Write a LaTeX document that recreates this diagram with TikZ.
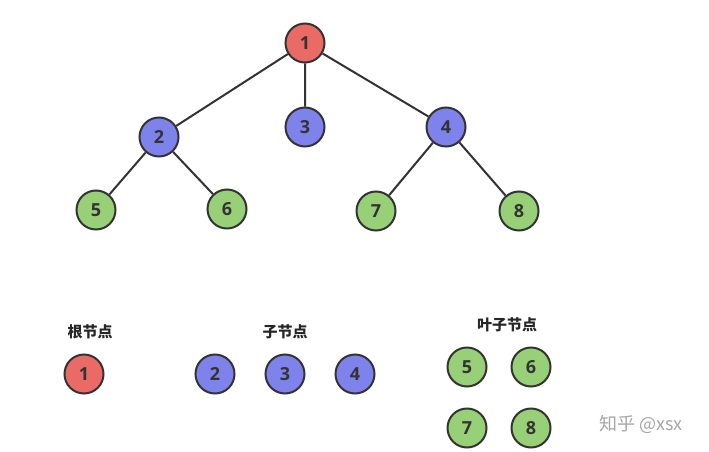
\documentclass[tikz,border=0pt]{standalone}
\usepackage{fontspec}
\setmainfont{Open Sans}
\newfontfamily\cjk{Noto Sans CJK SC}
\begin{document}
\begin{tikzpicture}[x=1pt,y=-1pt,
  nd/.style={circle,draw=black!80,line width=2pt,minimum size=39pt,inner sep=0pt,font=\fontsize{18}{18}\selectfont\bfseries,text=black!80},
  rt/.style={nd,fill={rgb,255:red,234;green,107;blue,102}},
  md/.style={nd,fill={rgb,255:red,126;green,131;blue,235}},
  lf/.style={nd,fill={rgb,255:red,151;green,208;blue,119}},
  lab/.style={font=\cjk\fontsize{15}{15}\selectfont\bfseries,text=black!85},
  ed/.style={line width=2pt,draw=black!80}]
\useasboundingbox (0,0) rectangle (709,452);
\node[rt] (n1) at (305,43) {1};
\node[md] (n2) at (159,137) {2};
\node[md] (n3) at (305,127) {3};
\node[md] (n4) at (446,127) {4};
\node[lf] (n5) at (96,210) {5};
\node[lf] (n6) at (227,209) {6};
\node[lf] (n7) at (376,211) {7};
\node[lf] (n8) at (519,211) {8};
\draw[ed] (n1)--(n2) (n1)--(n3) (n1)--(n4) (n2)--(n5) (n2)--(n6) (n4)--(n7) (n4)--(n8);
\node[lab] (l1) at (90,332) {根节点};
\node[rt] (a1) at (84,374) {1};
\node[lab] (l2) at (285,332) {子节点};
\node[md] (a2) at (215,374) {2};
\node[md] (a3) at (285,374) {3};
\node[md] (a4) at (355,374) {4};
\node[lab] (l3) at (507,325) {叶子节点};
\node[lf] (a5) at (467,367) {5};
\node[lf] (a6) at (531,367) {6};
\node[lf] (a7) at (467,428) {7};
\node[lf] (a8) at (531,428) {8};
\node[font=\cjk\fontsize{18}{18}\selectfont,text=black!35] (wm) at (641,424) {知乎 @xsx};
\end{tikzpicture}
\end{document}
